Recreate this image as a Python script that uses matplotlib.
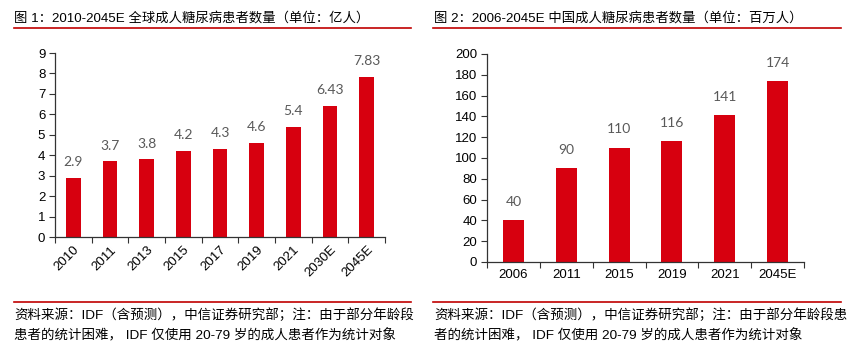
import matplotlib
matplotlib.use("Agg")
import matplotlib.pyplot as plt
from matplotlib.lines import Line2D
import numpy as np

# ---- data ----
global_years = ["2010", "2011", "2013", "2015", "2017", "2019", "2021", "2030E", "2045E"]
global_values = [2.9, 3.7, 3.8, 4.2, 4.3, 4.6, 5.4, 6.43, 7.83]
global_labels = ["2.9", "3.7", "3.8", "4.2", "4.3", "4.6", "5.4", "6.43", "7.83"]

china_years = ["2006", "2011", "2015", "2019", "2021", "2045E"]
china_values = [40, 90, 110, 116, 141, 174]
china_labels = ["40", "90", "110", "116", "141", "174"]

title1 = "图 1：2010-2045E 全球成人糖尿病患者数量（单位：亿人）"
title2 = "图 2：2006-2045E 中国成人糖尿病患者数量（单位：百万人）"
foot1 = ["资料来源：IDF（含预测），中信证券研究部；注：由于部分年龄段",
         "患者的统计困难， IDF 仅使用 20-79 岁的成人患者作为统计对象"]
foot2 = ["资料来源：IDF（含预测），中信证券研究部；注：由于部分年龄段患",
         "者的统计困难， IDF 仅使用 20-79 岁的成人患者作为统计对象"]

W, H = 853, 355
BAR = "#d7000f"
LAB = "#595959"
TXT = ["Liberation Sans", "Noto Sans CJK SC", "DejaVu Sans"]
plt.rcParams['font.family'] = TXT

fig = plt.figure(figsize=(W / 100, H / 100), dpi=100)
fig.patch.set_facecolor("white")


def px_axes(x0, y0, x1, y1):
    return fig.add_axes([x0 / W, 1 - y1 / H, (x1 - x0) / W, (y1 - y0) / H])


def hline(x0, x1, y):
    fig.add_artist(Line2D([x0 / W, x1 / W], [1 - y / H, 1 - y / H],
                          transform=fig.transFigure, color="#c00000", lw=1.2))


def style(ax, n):
    for s in ["top", "right"]:
        ax.spines[s].set_visible(False)
    for s in ["left", "bottom"]:
        ax.spines[s].set_color("#333333")
        ax.spines[s].set_linewidth(0.9)
    ax.set_xlim(-0.5, n - 0.5)
    ax.set_xticks(np.arange(n))
    ax.set_xticks(np.arange(n + 1) - 0.5, minor=True)
    ax.tick_params(axis="x", which="major", length=0, labelsize=9.5, pad=5, labelcolor="#000000")
    ax.tick_params(axis="x", which="minor", length=4, width=0.8, color="#333333", direction="out")
    ax.tick_params(axis="y", length=4, width=0.8, color="#333333", labelsize=9.5, pad=3, labelcolor="#000000")


# ---- left chart ----
ax1 = px_axes(55, 53, 385, 237)
x1 = np.arange(len(global_years))
ax1.bar(x1, global_values, width=0.4, color=BAR, zorder=2)
style(ax1, len(global_years))
ax1.set_ylim(0, 9)
ax1.set_yticks(range(0, 10))
ax1.set_xticklabels(global_years, rotation=45, ha="right", va="top", rotation_mode="anchor")
for xi, v, t in zip(x1, global_values, global_labels):
    ax1.annotate(t, (xi, v), xytext=(0, 7), textcoords="offset points",
                 ha="center", va="bottom", color=LAB, fontsize=10, family=["Lato", "DejaVu Sans"])

# ---- right chart ----
ax2 = px_axes(487, 54, 804, 262)
x2 = np.arange(len(china_years))
ax2.bar(x2, china_values, width=0.4, color=BAR, zorder=2)
style(ax2, len(china_years))
ax2.set_ylim(0, 200)
ax2.set_yticks(range(0, 201, 20))
ax2.set_xticklabels(china_years)
for xi, v, t in zip(x2, china_values, china_labels):
    ax2.annotate(t, (xi, v), xytext=(0, 9), textcoords="offset points",
                 ha="center", va="bottom", color=LAB, fontsize=10, family=["Lato", "DejaVu Sans"])

# ---- titles and footers ----
fig.text(14 / W, 1 - 18 / H, title1, ha="left", va="center", fontsize=9.6, color="#000000")
fig.text(434 / W, 1 - 18 / H, title2, ha="left", va="center", fontsize=9.6, color="#000000")
hline(14, 411, 28)
hline(433, 841, 28)
hline(14, 411, 302)
hline(433, 841, 302)
for i, (a, b) in enumerate(zip(foot1, foot2)):
    y = 315 + i * 21
    fig.text(14 / W, 1 - y / H, a, ha="left", va="center", fontsize=9.7, color="#000000")
    fig.text(434 / W, 1 - y / H, b, ha="left", va="center", fontsize=9.7, color="#000000")

fig.savefig("out.png", dpi=100, facecolor="white")
